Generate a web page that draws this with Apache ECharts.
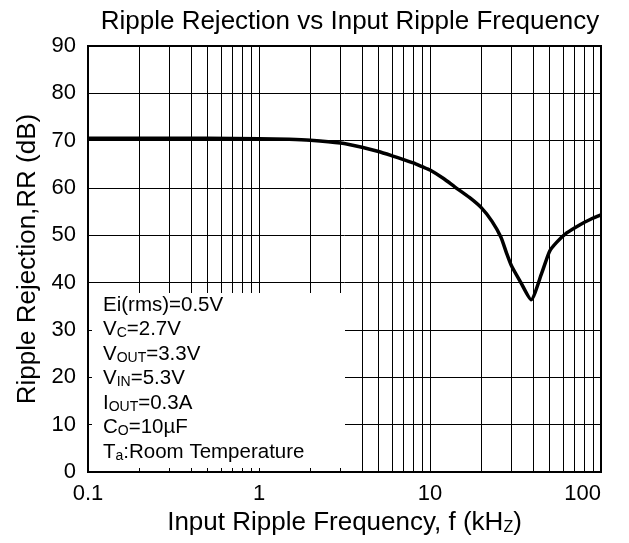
<!DOCTYPE html>
<html>
<head>
<meta charset="utf-8">
<script src="https://cdn.jsdelivr.net/npm/echarts@6/dist/echarts.min.js"></script>
<style>
  html, body { margin: 0; padding: 0; background: #fff; }
  #chart { width: 629px; height: 543px; }
</style>
</head>
<body>
<div id="chart"></div>
<script>
// input ripple frequency (kHz) and ripple rejection (dB)
var freq = [0.1, 0.2, 0.5, 1, 1.5, 2, 3, 4, 5, 6, 7, 8, 9, 10, 12, 14, 17, 20, 23, 26, 28, 30, 34, 39, 45, 50, 55, 63, 75, 87, 100];
var rr   = [70.5, 70.5, 70.5, 70.4, 70.3, 70.1, 69.5, 68.6, 67.7, 66.8, 66.0, 65.3, 64.5, 63.8, 62.0, 60.2, 58.0, 55.8, 53.0, 49.6, 46.3, 43.5, 40.0, 36.4, 42.0, 46.6, 48.5, 50.5, 52.2, 53.4, 54.3];

// log grid lines between decades
var minorGrid = [0.2, 0.3, 0.4, 0.5, 0.6, 0.7, 0.8, 0.9,
                 2, 3, 4, 5, 6, 7, 8, 9,
                 20, 30, 40, 50, 60, 70, 80, 90];

// condition block text
var conditions = [
  'Ei(rms)=0.5V',
  'V{s|C}=2.7V',
  'V{s|OUT}=3.3V',
  'V{s|IN}=5.3V',
  'I{s|OUT}=0.3A',
  'C{s|O}=10µF',
  'T{s|a}:Room Temperature'
];

var FONT = '"Liberation Sans", Arial, sans-serif';
var chart = echarts.init(document.getElementById('chart'));

var textEls = conditions.map(function (t, i) {
  return {
    type: 'text',
    left: 103,
    top: 294 + i * 24.5,
    z: 101,
    style: {
      text: t,
      font: '20.5px ' + FONT,
      fill: '#000',
      lineHeight: 22,
      rich: {
        s: { fontSize: 14, fontFamily: FONT, fill: '#000', verticalAlign: 'bottom', lineHeight: 14 }
      }
    }
  };
});

chart.setOption({
  animation: false,
  backgroundColor: '#fff',
  title: {
    text: 'Ripple Rejection vs Input Ripple Frequency',
    left: 345,
    textAlign: 'center',
    top: 4,
    textStyle: { fontFamily: FONT, fontSize: 26, fontWeight: 'normal', color: '#000' }
  },
  grid: {
    left: 88, right: 28, top: 46, bottom: 71,
    show: true, borderColor: '#000', borderWidth: 2, backgroundColor: 'transparent'
  },
  xAxis: {
    type: 'log',
    logBase: 10,
    min: 0.1,
    max: 100,
    name: 'Input Ripple Frequency, f (kH{s|Z})',
    nameLocation: 'middle',
    nameGap: 37,
    nameTextStyle: {
      fontFamily: FONT, fontSize: 26, color: '#000',
      rich: { s: { fontFamily: FONT, fontSize: 16, color: '#000', verticalAlign: 'bottom', lineHeight: 16 } }
    },
    axisLine: { show: false },
    axisTick: { show: false },
    axisLabel: { fontFamily: FONT, fontSize: 22, color: '#000', margin: 11, alignMaxLabel: 'right' },
    splitLine: { show: true, lineStyle: { color: '#000', width: 1 } }
  },
  yAxis: {
    type: 'value',
    min: 0,
    max: 90,
    interval: 10,
    name: 'Ripple Rejection,RR (dB)',
    nameLocation: 'middle',
    nameGap: 46,
    nameTextStyle: { fontFamily: FONT, fontSize: 26, color: '#000' },
    axisLine: { show: false },
    axisTick: { show: false },
    axisLabel: { fontFamily: FONT, fontSize: 22, color: '#000', margin: 12 },
    splitLine: { show: true, lineStyle: { color: '#000', width: 1 } }
  },
  series: [{
    type: 'line',
    data: freq.map(function (f, i) { return [f, rr[i]]; }),
    showSymbol: false,
    smooth: 0.2,
    lineStyle: { color: '#000', width: 3.5 },
    z: 5,
    markLine: {
      silent: true,
      symbol: ['none', 'none'],
      label: { show: false },
      lineStyle: { color: '#000', width: 1, type: 'solid' },
      emphasis: { disabled: true },
      data: minorGrid.map(function (v) { return { xAxis: v }; })
    }
  }],
  graphic: {
    elements: [{
      type: 'rect',
      left: 92,
      top: 293,
      z: 100,
      shape: { width: 253, height: 175 },
      style: { fill: '#fff' }
    }].concat(textEls)
  }
});
</script>
</body>
</html>
